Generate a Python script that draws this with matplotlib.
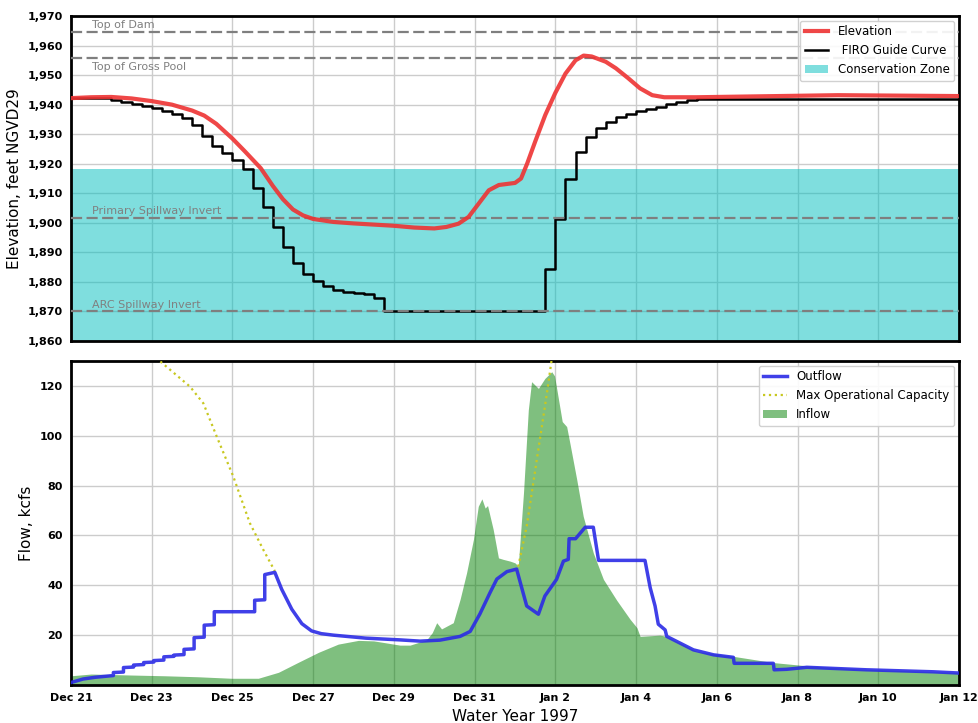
import numpy as np
import matplotlib
matplotlib.use("Agg")
import matplotlib.pyplot as plt
from matplotlib.ticker import FuncFormatter

# ---------------- data ----------------
# x axis: days since Dec 21 (water year 1997)
tick_days = [0, 2, 4, 6, 8, 10, 12, 14, 16, 18, 20, 22]
tick_labels = ["Dec 21", "Dec 23", "Dec 25", "Dec 27", "Dec 29", "Dec 31",
               "Jan 2", "Jan 4", "Jan 6", "Jan 8", "Jan 10", "Jan 12"]

# reference elevations (ft)
ref_names = ["Top of Dam", "Top of Gross Pool", "Primary Spillway Invert", "ARC Spillway Invert"]
ref_elev = [1964.7, 1955.8, 1901.6, 1870.0]
conservation_top = 1918.3
elev_floor = 1860

# reservoir elevation (day, ft)
elev_days = [0.0, 0.5, 1.0, 1.5, 2.0, 2.5, 3.0, 3.3, 3.6, 4.0, 4.3, 4.7, 5.0, 5.25, 5.5,
             5.75, 6.0, 6.5, 7.0, 8.0, 8.5, 9.0, 9.3, 9.6, 9.85, 10.1, 10.35, 10.6, 11.0,
             11.15, 11.3, 11.5, 11.75, 12.0, 12.25, 12.5, 12.7, 12.9, 13.25, 13.5, 13.8,
             14.1, 14.4, 14.7, 15.5, 16.5, 17.5, 19.0, 20.0, 21.0, 22.0]
elev_vals = [1942.2, 1942.5, 1942.6, 1942.1, 1941.2, 1940.0, 1938.0, 1936.3, 1933.5, 1928.5,
             1924.3, 1918.5, 1912.5, 1908.0, 1904.5, 1902.5, 1901.3, 1900.3, 1899.8, 1899.0,
             1898.4, 1898.1, 1898.6, 1899.7, 1902.0, 1906.5, 1911.0, 1912.8, 1913.5, 1915.0,
             1920.0, 1927.5, 1936.5, 1944.0, 1950.5, 1955.0, 1956.6, 1956.3, 1954.5, 1952.3,
             1949.0, 1945.5, 1943.2, 1942.5, 1942.5, 1942.7, 1942.9, 1943.2, 1943.1, 1943.0,
             1942.9]

# FIRO guide curve, 6-hourly steps starting Dec 21 00:00
firo_step_days = 0.25
firo_vals = [1942.1, 1942.1, 1942.1, 1942.1, 1941.5, 1940.9, 1940.2, 1939.5, 1938.8, 1937.9,
             1936.7, 1935.6, 1933.0, 1929.4, 1926.1, 1923.5, 1921.3, 1918.1, 1911.9, 1905.3,
             1898.5, 1891.9, 1886.3, 1882.7, 1880.3, 1878.6, 1877.3, 1876.5, 1876.2, 1875.8,
             1874.5, 1870.0, 1870.0, 1870.0, 1870.0, 1870.0, 1870.0, 1870.0, 1870.0, 1870.0,
             1870.0, 1870.0, 1870.0, 1870.0, 1870.0, 1870.0, 1870.0, 1884.3, 1901.3, 1914.8,
             1924.1, 1928.9, 1932.2, 1934.0, 1935.7, 1936.7, 1937.9, 1938.5, 1939.3, 1940.1,
             1940.8, 1941.4, 1941.8, 1942.0, 1942.0, 1942.0, 1942.0, 1942.0, 1942.0, 1942.0,
             1942.0, 1942.0, 1942.0, 1942.0, 1942.0, 1942.0, 1942.0, 1942.0, 1942.0, 1942.0,
             1942.0, 1942.0, 1942.0, 1942.0, 1942.0, 1942.0, 1942.0, 1942.0, 1942.0]

# outflow (day, kcfs)
out_days = [0.0, 0.3, 0.6, 1.05, 1.05, 1.3, 1.3, 1.55, 1.55, 1.8, 1.8, 2.05, 2.05, 2.3, 2.3,
            2.55, 2.55, 2.8, 2.8, 3.05, 3.05, 3.3, 3.3, 3.55, 3.55, 4.55, 4.55, 4.8, 4.8, 5.05,
            5.22, 5.47, 5.72, 5.96, 6.2, 6.5, 7.3, 8.15, 8.65, 9.14, 9.64, 9.89, 10.13, 10.38,
            10.55, 10.8, 11.04, 11.29, 11.58, 11.74, 12.03, 12.2, 12.32, 12.34, 12.5, 12.74,
            12.94, 13.07, 14.22, 14.35, 14.47, 14.55, 14.72, 14.76, 15.42, 15.92, 16.41, 16.43,
            17.4, 17.42, 17.73, 18.23, 19.71, 20.54, 21.36, 22.0]
out_vals = [1.0, 2.4, 3.1, 3.8, 5.0, 5.2, 7.0, 7.2, 8.0, 8.2, 9.0, 9.2, 9.8, 10.0, 11.3,
            11.5, 12.0, 12.2, 14.3, 14.5, 19.0, 19.2, 24.0, 24.2, 29.4, 29.4, 34.0, 34.2, 44.3,
            45.2, 38.4, 30.4, 24.6, 21.7, 20.6, 20.0, 18.8, 18.1, 17.6, 18.0, 19.5, 21.5, 28.5,
            37.0, 42.5, 45.5, 46.5, 31.7, 28.4, 35.7, 42.4, 49.7, 50.4, 58.7, 58.7, 63.3, 63.3,
            50.0, 50.0, 39.0, 31.7, 24.4, 22.1, 19.5, 14.1, 12.1, 11.1, 8.7, 8.7, 6.1, 6.3, 7.1,
            6.1, 5.7, 5.3, 4.8]

# inflow (day, kcfs)
in_days = [0.0, 0.5, 1.5, 2.33, 3.15, 3.98, 4.64, 5.14, 5.63, 6.13, 6.62, 7.12, 7.5, 8.15,
           8.4, 8.81, 8.95, 9.06, 9.18, 9.47, 9.64, 9.8, 9.97, 10.09, 10.18, 10.26, 10.32,
           10.46, 10.59, 10.71, 10.88, 11.0, 11.08, 11.21, 11.33, 11.41, 11.58, 11.74, 11.91,
           11.98, 12.08, 12.17, 12.28, 12.36, 12.53, 12.69, 12.94, 13.19, 13.52, 13.85, 14.02,
           14.1, 14.59, 14.76, 15.5, 16.41, 17.4, 18.23, 19.71, 22.0]
in_vals = [3.7, 4.4, 4.0, 3.7, 3.3, 2.7, 2.7, 5.1, 9.1, 13.1, 16.4, 17.9, 17.7, 16.0, 16.0,
           18.1, 21.0, 25.0, 22.5, 25.0, 34.4, 45.0, 58.4, 71.7, 74.7, 71.0, 72.0, 62.4, 51.0,
           50.4, 49.7, 49.0, 47.7, 77.0, 110.4, 121.7, 119.0, 123.0, 125.7, 124.0, 114.4,
           105.7, 103.7, 97.0, 82.4, 67.7, 53.0, 42.4, 34.0, 26.4, 23.0, 19.5, 20.0, 19.5,
           13.5, 11.5, 9.0, 7.7, 6.3, 5.0]

# max operational capacity (two segments)
cap1_days = [2.0, 2.2, 2.6, 2.95, 3.28, 3.61, 4.02, 4.43, 4.76, 5.05]
cap1_vals = [133.0, 130.0, 124.5, 119.7, 113.0, 99.7, 83.7, 65.0, 54.4, 45.7]
cap2_days = [11.08, 11.29, 11.54, 11.79, 11.93]
cap2_vals = [47.5, 63.7, 90.4, 117.0, 133.0]

# ---------------- plot ----------------
plt.rcParams['font.family'] = ['DejaVu Sans']
fig = plt.figure(figsize=(9.79, 7.23), dpi=100)
W, H = 979, 723
ax1 = fig.add_axes([71 / W, 1 - 341 / H, (959 - 71) / W, (341 - 16) / H])
ax2 = fig.add_axes([71 / W, 1 - 685 / H, (959 - 71) / W, (685 - 361) / H])

grid_kw = dict(color='#cccccc', linewidth=1.0)
ref_color = '#7f7f7f'

# --- top panel ---
ax1.set_axisbelow(True)
ax1.grid(True, **grid_kw)
ax1.axhspan(elev_floor, conservation_top, color='c', alpha=0.5, lw=0, zorder=1,
            label='Conservation Zone')
firo_days = np.arange(len(firo_vals)) * firo_step_days
ax1.plot(firo_days, firo_vals, color='black', lw=1.8, drawstyle='steps-post',
         zorder=3, label=' FIRO Guide Curve')
for name, e in zip(ref_names, ref_elev):
    ax1.axhline(e, color=ref_color, lw=1.6, dashes=(5, 2), zorder=4)
ax1.plot(elev_days, elev_vals, color='#ee3333', alpha=0.9, lw=3, zorder=5,
         label='Elevation')

txt_kw = dict(color='#808080', fontsize=8, zorder=6)
ax1.text(0.52, ref_elev[0] + 0.6, ref_names[0], va='bottom', **txt_kw)
ax1.text(0.52, ref_elev[1] - 1.2, ref_names[1], va='top', **txt_kw)
ax1.text(0.52, ref_elev[2] + 0.6, ref_names[2], va='bottom', **txt_kw)
ax1.text(0.52, ref_elev[3] + 0.6, ref_names[3], va='bottom', **txt_kw)

ax1.set_xlim(0, 22)
ax1.set_ylim(1860, 1970)
ax1.set_yticks(np.arange(1860, 1971, 10))
ax1.yaxis.set_major_formatter(FuncFormatter(lambda v, p: f"{v:,.0f}"))
ax1.set_xticks(tick_days)
ax1.set_xticklabels([])
ax1.set_ylabel('Elevation, feet NGVD29', fontsize=11)
h, l = ax1.get_legend_handles_labels()
order = [l.index('Elevation'), l.index(' FIRO Guide Curve'), l.index('Conservation Zone')]
ax1.legend([h[i] for i in order], [l[i] for i in order], loc='upper right',
           fontsize=8.5, framealpha=0.9, borderaxespad=0.4)

# --- bottom panel ---
ax2.set_axisbelow(True)
ax2.grid(True, **grid_kw)
ax2.fill_between(in_days, 0, in_vals, color='g', alpha=0.5, lw=0, zorder=2, label='Inflow')
ax2.plot(cap1_days, cap1_vals, color='#c8c820', lw=1.6, ls=':', zorder=3,
         label='Max Operational Capacity')
ax2.plot(cap2_days, cap2_vals, color='#c8c820', lw=1.6, ls=':', zorder=3)
ax2.plot(out_days, out_vals, color='#2b2be6', alpha=0.9, lw=2.5, zorder=4, label='Outflow')
ax2.set_xlim(0, 22)
ax2.set_ylim(0, 130)
ax2.set_yticks([20, 40, 60, 80, 100, 120])
ax2.set_xticks(tick_days)
ax2.set_xticklabels(tick_labels)
ax2.set_ylabel('Flow, kcfs', fontsize=11)
ax2.set_xlabel('Water Year 1997', fontsize=11)
h, l = ax2.get_legend_handles_labels()
order = [l.index('Outflow'), l.index('Max Operational Capacity'), l.index('Inflow')]
ax2.legend([h[i] for i in order], [l[i] for i in order], loc='upper right',
           fontsize=8.5, framealpha=0.9, borderaxespad=0.4)

for ax in (ax1, ax2):
    for sp in ax.spines.values():
        sp.set_linewidth(2)
        sp.set_color('black')
    ax.tick_params(axis='both', length=0, pad=6)
    for lab in ax.get_xticklabels() + ax.get_yticklabels():
        lab.set_fontweight('bold')
        lab.set_fontsize(8)

fig.savefig('out.png', dpi=100)
